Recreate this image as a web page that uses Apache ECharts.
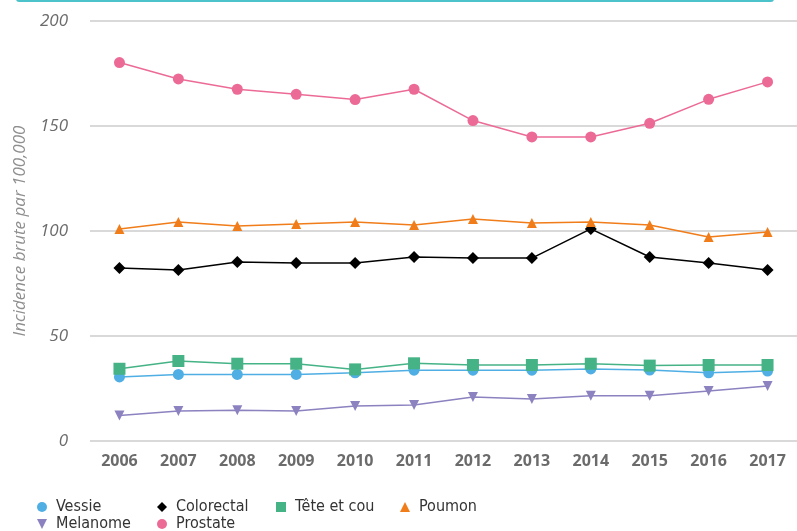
<!DOCTYPE html>
<html>
<head>
<meta charset="utf-8">
<script src="https://cdn.jsdelivr.net/npm/echarts@6/dist/echarts.min.js"></script>
<style>
  html, body { margin: 0; padding: 0; background: #fff; }
  #chart { width: 797px; height: 531px; }
</style>
</head>
<body>
<div id="chart"></div>
<script>
const years = ['2006', '2007', '2008', '2009', '2010', '2011', '2012', '2013', '2014', '2015', '2016', '2017']
const vessie = [30.5, 31.7, 31.7, 31.7, 32.5, 33.7, 33.7, 33.7, 34.3, 33.8, 32.5, 33.3]
const colorectal = [82.4, 81.4, 85.2, 84.8, 84.8, 87.6, 87.1, 87.1, 101, 87.6, 84.8, 81.4]
const teteCou = [34.4, 38.1, 36.8, 36.8, 34.1, 37, 36.2, 36.2, 36.8, 35.9, 36.2, 36.2]
const poumon = [101, 104.3, 102.4, 103.3, 104.3, 102.9, 105.7, 103.8, 104.3, 102.9, 97.1, 99.5]
const melanome = [12.2, 14.3, 14.6, 14.3, 16.7, 17.1, 21, 20, 21.6, 21.6, 23.8, 26.2]
const prostate = [180.2, 172.4, 167.5, 165.1, 162.6, 167.5, 152.6, 144.8, 144.8, 151.3, 162.7, 171]

const legendFont = "'Liberation Sans Narrow', 'DejaVu Sans Condensed', 'Roboto', sans-serif"
const downTri = 'path://M0,0 L10,0 L5,10 Z'

function line(name, data, color, symbol, size) {
  return {
    name: name,
    type: 'line',
    data: data,
    symbol: symbol,
    symbolSize: size,
    itemStyle: { color: color },
    lineStyle: { color: color, width: 1.5 },
    emphasis: { disabled: true }
  }
}

// one legend per entry so the 4 + 2 grid sits where the original has it
function legendItem(left, top, name, icon) {
  return {
    left: left,
    top: top,
    itemWidth: 10,
    itemHeight: 10,
    padding: 0,
    data: [{ name: name, icon: icon }],
    textStyle: { fontFamily: legendFont, fontSize: 16, color: '#333', padding: [0, 0, 0, 4] }
  }
}

const chart = echarts.init(document.getElementById('chart'))
chart.setOption({
  animation: false,
  graphic: [{
    type: 'rect',
    shape: { x: 16, y: -4, width: 758, height: 6, r: 3 },
    style: { fill: '#4cc3cb' }
  }],
  legend: [
    legendItem(37, 499, 'Vessie', 'circle'),
    legendItem(157, 499, 'Colorectal', 'diamond'),
    legendItem(276, 499, 'Tête et cou', 'rect'),
    legendItem(400, 499, 'Poumon', 'triangle'),
    legendItem(37, 516, 'Melanome', downTri),
    legendItem(157, 516, 'Prostate', 'circle')
  ],
  grid: { left: 90, right: 0, top: 21, bottom: 90 },
  xAxis: {
    type: 'category',
    data: years,
    boundaryGap: true,
    axisLine: { show: false },
    axisTick: { show: false },
    axisLabel: { color: '#6b6b6b', fontSize: 16, fontWeight: 'bold', fontFamily: 'Open Sans, sans-serif', margin: 12 }
  },
  yAxis: {
    type: 'value',
    min: 0,
    max: 200,
    interval: 50,
    name: 'Incidence brute par 100,000',
    nameLocation: 'middle',
    nameGap: 60,
    nameTextStyle: { color: '#8f8f8f', fontSize: 17, fontStyle: 'italic', fontFamily: 'Open Sans, sans-serif' },
    axisLine: { show: false },
    axisTick: { show: false },
    axisLabel: { color: '#6b6b6b', fontSize: 17, fontStyle: 'italic', fontFamily: 'Open Sans, sans-serif', margin: 22 },
    splitLine: { lineStyle: { color: '#cccccc', width: 1.5 } }
  },
  series: [
    line('Vessie', vessie, '#4faee3', 'circle', 11),
    line('Colorectal', colorectal, '#000000', 'diamond', 12),
    line('Tête et cou', teteCou, '#45b386', 'rect', 12),
    line('Poumon', poumon, '#f07d1a', 'triangle', 10),
    line('Melanome', melanome, '#8c82c0', downTri, 10),
    line('Prostate', prostate, '#ec6b96', 'circle', 11)
  ]
})
</script>
</body>
</html>
